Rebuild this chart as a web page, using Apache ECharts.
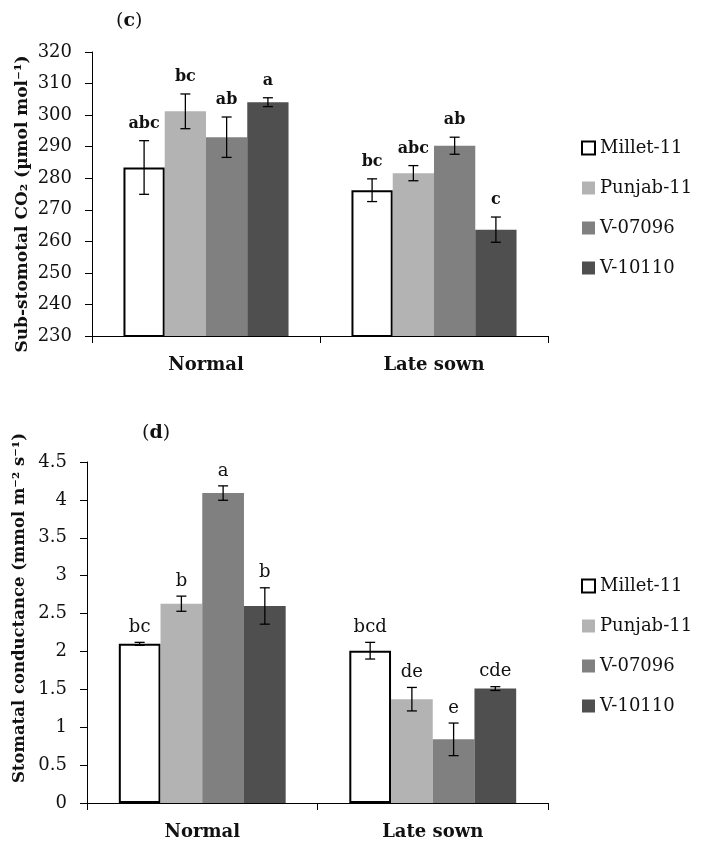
<!DOCTYPE html>
<html>
<head>
<meta charset="utf-8">
<script src="https://cdn.jsdelivr.net/npm/echarts@6/dist/echarts.min.js"></script>
<style>
html,body{margin:0;padding:0;background:#fff;}
#chart{width:702px;height:855px;}
</style>
</head>
<body>
<div id="chart"></div>
<script>
// ---- data ----
const categories = ['Normal', 'Late sown'];
const varieties = ['Millet-11', 'Punjab-11', 'V-07096', 'V-10110'];

// (c) Sub-stomatal CO2
const co2Millet  = [283.4, 276.2];
const co2Punjab  = [301.2, 281.6];
const co2V07096  = [293.0, 290.3];
const co2V10110  = [304.1, 263.7];
const co2ErrMillet = [8.5, 3.6];
const co2ErrPunjab = [5.5, 2.4];
const co2ErrV07096 = [6.4, 2.7];
const co2ErrV10110 = [1.4, 4.0];
const co2LetMillet = ['abc', 'bc'];
const co2LetPunjab = ['bc', 'abc'];
const co2LetV07096 = ['ab', 'ab'];
const co2LetV10110 = ['a', 'c'];
const co2Ticks = {min: 230, max: 320, interval: 10};

// (d) Stomatal conductance
const gsMillet  = [2.10, 2.01];
const gsPunjab  = [2.63, 1.37];
const gsV07096  = [4.09, 0.84];
const gsV10110  = [2.60, 1.51];
const gsErrMillet = [0.02, 0.11];
const gsErrPunjab = [0.10, 0.155];
const gsErrV07096 = [0.095, 0.215];
const gsErrV10110 = [0.24, 0.025];
const gsLetMillet = ['bc', 'bcd'];
const gsLetPunjab = ['b', 'de'];
const gsLetV07096 = ['a', 'e'];
const gsLetV10110 = ['b', 'cde'];
const gsTicks = {min: 0, max: 4.5, interval: 0.5};

// ---- styles ----
const FONT = "'DejaVu Serif', serif";
const TXT = '#111';
const barColors = ['#ffffff', '#b3b3b3', '#808080', '#4f4f4f'];
const BAR_FRAC = 0.181;

const co2Vals = [co2Millet, co2Punjab, co2V07096, co2V10110];
const co2Errs = [co2ErrMillet, co2ErrPunjab, co2ErrV07096, co2ErrV10110];
const co2Lets = [co2LetMillet, co2LetPunjab, co2LetV07096, co2LetV10110];
const gsVals = [gsMillet, gsPunjab, gsV07096, gsV10110];
const gsErrs = [gsErrMillet, gsErrPunjab, gsErrV07096, gsErrV10110];
const gsLets = [gsLetMillet, gsLetPunjab, gsLetV07096, gsLetV10110];

function barSeries(gridIdx, vals, startValue) {
  return varieties.map((name, s) => ({
    name: name,
    type: 'bar',
    xAxisIndex: gridIdx,
    yAxisIndex: gridIdx,
    data: vals[s],
    barWidth: (BAR_FRAC * 100) + '%',
    barGap: '0%',
    startValue: startValue,
    itemStyle: s === 0
      ? {color: '#ffffff', borderColor: '#000', borderWidth: 2}
      : {color: barColors[s], borderWidth: 0},
    emphasis: {disabled: true},
    silent: true,
    z: 2
  }));
}

function errSeries(gridIdx, vals, errs, lets, font, gap) {
  const meta = [];
  const data = [];
  for (let s = 0; s < varieties.length; s++) {
    for (let c = 0; c < categories.length; c++) {
      meta.push({s: s, c: c, v: vals[s][c], e: errs[s][c], t: lets[s][c]});
      data.push([c, vals[s][c] + errs[s][c]]);
    }
  }
  return {
    type: 'custom',
    xAxisIndex: gridIdx,
    yAxisIndex: gridIdx,
    data: data,
    silent: true,
    clip: false,
    z: 5,
    renderItem: function (params, api) {
      const m = meta[params.dataIndex];
      const band = api.size([1, 0])[0];
      const bw = band * BAR_FRAC;
      const cen = api.coord([m.c, m.v]);
      const x = cen[0] + (m.s - 1.5) * bw;
      const yT = api.coord([m.c, m.v + m.e])[1];
      const yB = api.coord([m.c, m.v - m.e])[1];
      const st = {stroke: '#000', lineWidth: 1.3};
      const cap = 5;
      return {
        type: 'group',
        children: [
          {type: 'line', shape: {x1: x, y1: yT, x2: x, y2: yB}, style: st},
          {type: 'line', shape: {x1: x - cap, y1: yT, x2: x + cap, y2: yT}, style: st},
          {type: 'line', shape: {x1: x - cap, y1: yB, x2: x + cap, y2: yB}, style: st},
          {type: 'text', style: {text: m.t, x: x, y: yT - gap, align: 'center', verticalAlign: 'bottom', font: font, fill: TXT}}
        ]
      };
    }
  };
}

function xAxisCfg(gridIdx) {
  return {
    type: 'category',
    gridIndex: gridIdx,
    data: categories,
    axisLine: {lineStyle: {color: '#000', width: 1}},
    axisTick: {show: true, length: 7, alignWithLabel: false, lineStyle: {color: '#000'}},
    axisLabel: {margin: 20, fontFamily: FONT, fontSize: 18, fontWeight: 'bold', color: TXT},
    splitLine: {show: false}
  };
}
function yAxisCfg(gridIdx, ticks) {
  return {
    type: 'value',
    gridIndex: gridIdx,
    min: ticks.min, max: ticks.max, interval: ticks.interval,
    axisLine: {show: true, lineStyle: {color: '#000', width: 1}},
    axisTick: {show: true, length: 7, lineStyle: {color: '#000'}},
    axisLabel: {margin: 20, fontFamily: FONT, fontSize: 18, color: TXT},
    splitLine: {show: false}
  };
}
function legendCfg(top) {
  return {
    orient: 'vertical',
    left: 581, top: top,
    padding: 0,
    icon: 'rect',
    itemWidth: 13, itemHeight: 13, itemGap: 22,
    selectedMode: false,
    data: varieties,
    textStyle: {fontFamily: FONT, fontSize: 18, color: TXT}
  };
}

const chart = echarts.init(document.getElementById('chart'), null, {renderer: 'canvas'});
chart.setOption({
  animation: false,
  backgroundColor: '#fff',
  grid: [
    {left: 92, top: 52, width: 456, height: 284},
    {left: 87, top: 462, width: 461, height: 341}
  ],
  xAxis: [xAxisCfg(0), xAxisCfg(1)],
  yAxis: [yAxisCfg(0, co2Ticks), yAxisCfg(1, gsTicks)],
  legend: [legendCfg(139), legendCfg(577)],
  graphic: [
    {type: 'text', left: 116, top: 12, style: {
      text: '{n|(}{b|c}{n|)}',
      rich: {n: {fontFamily: FONT, fontSize: 19, fill: TXT}, b: {fontFamily: FONT, fontSize: 19, fontWeight: 'bold', fill: TXT}}
    }},
    {type: 'text', left: 142, top: 424, style: {
      text: '{n|(}{b|d}{n|)}',
      rich: {n: {fontFamily: FONT, fontSize: 19, fill: TXT}, b: {fontFamily: FONT, fontSize: 19, fontWeight: 'bold', fill: TXT}}
    }},
    {type: 'text', x: 23, y: 204, rotation: Math.PI / 2, style: {
      text: 'Sub-stomotal CO\u2082 (\u00b5mol mol\u207b\u00b9)', align: 'center', verticalAlign: 'middle',
      font: "bold 17px 'DejaVu Serif', serif", fill: TXT
    }},
    {type: 'text', x: 20, y: 608, rotation: Math.PI / 2, style: {
      text: 'Stomatal conductance (mmol m\u207b\u00b2 s\u207b\u00b9)', align: 'center', verticalAlign: 'middle',
      font: "bold 16.5px 'DejaVu Serif', serif", fill: TXT
    }}
  ],
  series: [].concat(
    barSeries(0, co2Vals, co2Ticks.min),
    barSeries(1, gsVals, gsTicks.min),
    [errSeries(0, co2Vals, co2Errs, co2Lets, "bold 16px 'DejaVu Serif', serif", 9)],
    [errSeries(1, gsVals, gsErrs, gsLets, "18px 'DejaVu Serif', serif", 6)]
  )
});
</script>
</body>
</html>
